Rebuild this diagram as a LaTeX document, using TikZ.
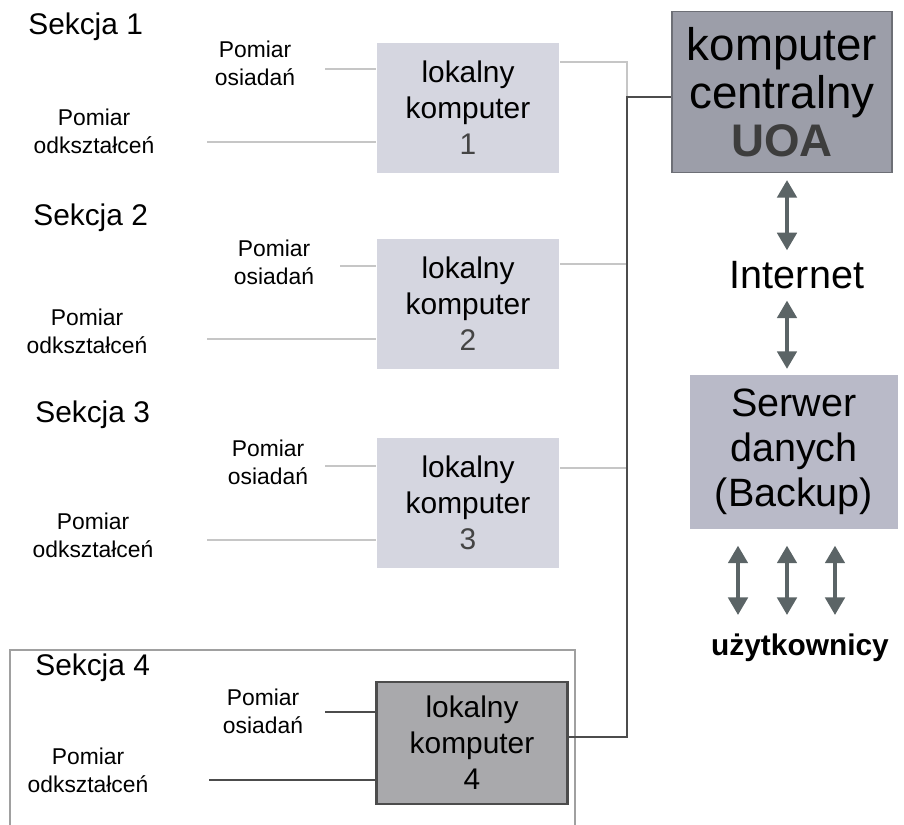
\documentclass[tikz,border=0pt]{standalone}
\usepackage{fontspec}
\setmainfont{Liberation Sans}
\usetikzlibrary{arrows.meta}

\definecolor{lokalny}{HTML}{D5D6E0}
\definecolor{lokalny4}{HTML}{A9A9AC}
\definecolor{centralny}{HTML}{9C9EA9}
\definecolor{serwer}{HTML}{B9BAC8}
\definecolor{lacze}{HTML}{C6C6C6}
\definecolor{szyna}{HTML}{4C4C4C}
\definecolor{strzalka}{HTML}{5B6466}
\definecolor{ramka}{HTML}{A0A0A0}
\definecolor{cyfra}{HTML}{444444}

\tikzset{
  sekcja/.style = {anchor = west, inner sep = 0pt, font = \fontsize{17}{20}\selectfont},
  pomiar/.style = {align = center, inner sep = 0pt, font = \fontsize{13}{16}\selectfont},
  komp/.style = {align = center, minimum width = 3.66cm, minimum height = 2.62cm,
    font = \fontsize{17}{20.5}\selectfont},
  lacze/.style = {draw = lacze, line width = 1.6pt},
  szyna/.style = {draw = szyna, line width = 1.6pt},
  dwustr/.style = {{Triangle[length = 10pt, width = 11pt]}-{Triangle[length = 10pt, width = 11pt]},
    draw = strzalka, line width = 2.2pt}
}

\begin{document}
\begin{tikzpicture}[x = 0.02cm, y = -0.02cm]
  \useasboundingbox (0, 0) rectangle (904, 825);

  \draw[draw = ramka, line width = 0.8pt] (10, 830) |- (575, 650) -- (575, 830);

  \foreach \n/\sx/\sy/\ox/\oy/\lx/\ly/\dx/\dy/\dly/\by/\ry in {
    1/28/27/255/63/325/69/94/131/142/108/62,
    2/33/218/274/262/340/266/87/331/339/304/264,
    3/35/415/268/462/325/466/93/535/540/503/468}{
    \node[sekcja] (s\n) at (\sx, \sy) {Sekcja \n};
    \node[pomiar] (os\n) at (\ox, \oy) {Pomiar\\osiadań};
    \node[pomiar] (od\n) at (\dx, \dy) {Pomiar\\odkształceń};
    \node[komp, fill = lokalny] (lk\n) at (468, \by)
      {lokalny\\komputer\\\textcolor{cyfra}{\n}};
    \coordinate (co\n) at (\lx, \ly);
    \coordinate (cd\n) at (207, \dly);
    \coordinate (bus\n) at (627, \ry);
    \draw[lacze] (co\n) -- (co\n -| lk\n.west);
    \draw[lacze] (cd\n) -- (cd\n -| lk\n.west);
  }

  \node[sekcja] (s4) at (35, 668) {Sekcja 4};
  \node[pomiar] (os4) at (263, 711) {Pomiar\\osiadań};
  \node[pomiar] (od4) at (88, 770) {Pomiar\\odkształceń};
  \node[komp, fill = lokalny4, draw = szyna, line width = 1.2pt,
    minimum width = 3.82cm, minimum height = 2.44cm] (lk4) at (472, 743)
    {lokalny\\komputer\\4};
  \coordinate (co4) at (325, 712);
  \coordinate (cd4) at (209, 780);
  \coordinate (bus4) at (627, 737);
  \draw[szyna] (co4) -- (co4 -| lk4.west);
  \draw[szyna] (cd4) -- (cd4 -| lk4.west);

  \node[align = center, minimum width = 4.4cm, minimum height = 3.22cm,
    fill = centralny, draw = centralny!70!black, line width = 0.6pt,
    font = \fontsize{26}{27.5}\selectfont] (uoa) at (782, 92)
    {komputer\\centralny\\\textcolor{szyna!80!black}{\textbf{UOA}}};
  \coordinate (busc) at (627, 97);

  \draw[lacze] (bus1 -| lk1.east) -- (bus1) -- (busc);
  \draw[lacze] (bus2 -| lk2.east) -- (bus2);
  \draw[lacze] (bus3 -| lk3.east) -- (bus3);
  \draw[szyna] (bus4 -| lk4.east) -- (bus4) -- (busc) -- (busc -| uoa.west);

  \node[inner sep = 0pt, font = \fontsize{22.5}{24}\selectfont] (inet) at (797, 275) {Internet};
  \node[align = center, minimum width = 4.16cm, minimum height = 3.1cm, fill = serwer,
    font = \fontsize{22.5}{25.5}\selectfont] (serwer) at (794, 452)
    {Serwer\\danych\\(Backup)};
  \node[inner sep = 0pt, font = \fontsize{17}{20}\bfseries] (uzyt) at (800, 648) {użytkownicy};

  \draw[dwustr, shorten <= 4pt, shorten >= 6pt] (uoa.south -| 787, 0) -- (inet.north -| 787, 0);
  \draw[dwustr, shorten <= 6.5pt, shorten >= 3pt] (inet.south -| 787, 0) -- (serwer.north -| 787, 0);
  \foreach \x [count = \i] in {738, 787, 835}{
    \coordinate (uz\i) at (\x, 615);
    \draw[dwustr, shorten <= 9pt] (serwer.south -| uz\i) -- (uz\i);
  }
\end{tikzpicture}
\end{document}
